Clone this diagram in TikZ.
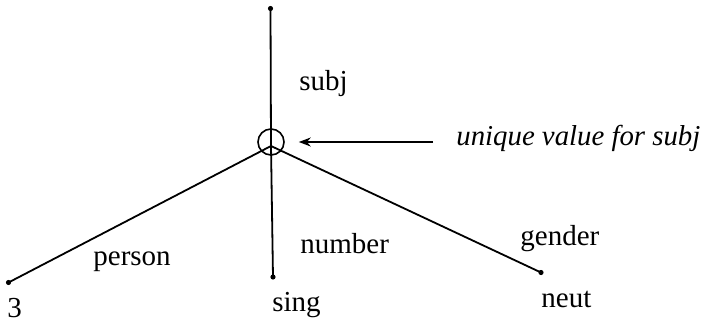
\documentclass[tikz,border=0pt]{standalone}
\usepackage{fontspec}
\setmainfont{Liberation Serif}
\usetikzlibrary{arrows.meta}
\begin{document}
\begin{tikzpicture}[x=0.5pt,y=-0.5pt,
  edge/.style={line width=0.9pt},
  enddot/.style={circle,fill=black,inner sep=0pt,minimum size=2.6pt},
  lbl/.style={anchor=base west,inner sep=0pt,font=\fontsize{14.5}{17}\selectfont}]
\useasboundingbox (0,0) rectangle (703,322);
\coordinate (hub) at (271,146);
\node[enddot] (top) at (270.5,8.5) {};
\node[enddot] (left) at (8.5,282.5) {};
\node[enddot] (bottom) at (273,277) {};
\node[enddot] (right) at (541,272.5) {};
\draw[edge] (top.center) -- (hub);
\draw[edge] (hub) -- (left.center);
\draw[edge] (hub) -- (bottom.center);
\draw[edge] (hub) -- (right.center);
\node[draw,circle,line width=0.8pt,minimum size=13pt,inner sep=0pt] (ring) at (271,142) {};
\coordinate (astart) at (433,142);
\draw[line width=0.9pt,shorten >=7pt,-{Stealth[length=6pt,width=4.5pt]}] (astart) -- (ring.east);
\node[lbl] (subj) at (299,90) {subj};
\node[lbl,font=\fontsize{14.4}{17}\selectfont\itshape] (uv) at (456,145) {unique value for subj};
\node[lbl] (person) at (93,265) {person};
\node[lbl] (number) at (300,253) {number};
\node[lbl] (gender) at (520,245) {gender};
\node[lbl] (three) at (7,317) {3};
\node[lbl] (sing) at (272,311) {sing};
\node[lbl] (neut) at (541,307) {neut};
\end{tikzpicture}
\end{document}
